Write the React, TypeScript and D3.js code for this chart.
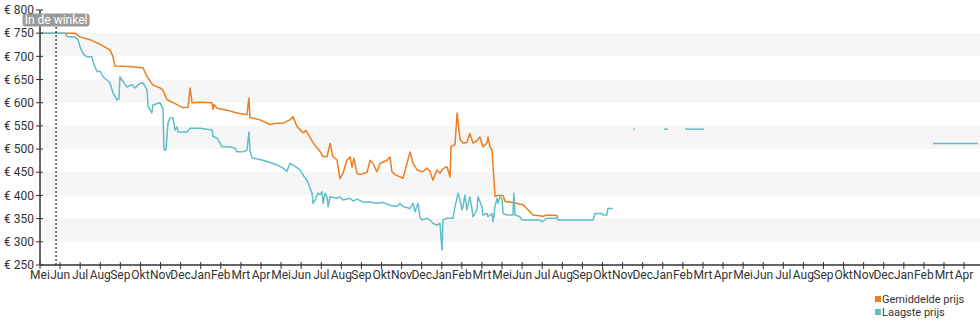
import React from "react";
import * as d3 from "d3";

// Month labels on the x axis (index-based axis; April of year 3 has no label)
const monthLabels: string[] = [
  "Mei", "Jun", "Jul", "Aug", "Sep", "Okt", "Nov", "Dec",
  "Jan", "Feb", "Mrt", "Apr", "Mei", "Jun", "Jul", "Aug", "Sep", "Okt", "Nov", "Dec",
  "Jan", "Feb", "Mrt", "Mei", "Jun", "Jul", "Aug", "Sep", "Okt", "Nov", "Dec",
  "Jan", "Feb", "Mrt", "Apr", "Mei", "Jun", "Jul", "Aug", "Sep", "Okt", "Nov", "Dec",
  "Jan", "Feb", "Mrt", "Apr",
];

const yTicks: number[] = [250, 300, 350, 400, 450, 500, 550, 600, 650, 700, 750, 800];

const releaseIdx = 0.8; // "In de winkel"

// [month index, price in €]
const gemiddeldePrijs: [number, number][] = [
  [0, 750], [1.74, 750], [1.99, 742], [2.49, 736], [2.99, 726], [3.48, 714], [3.63, 700], [3.73, 679],
  [4.33, 678], [4.73, 677], [5.13, 675], [5.33, 656], [5.62, 638], [5.97, 632], [6.12, 627], [6.32, 607],
  [6.82, 596], [7.12, 589], [7.37, 590], [7.47, 632], [7.57, 600], [7.96, 601], [8.56, 600], [8.61, 586],
  [8.66, 596], [8.81, 588], [9.31, 584], [9.81, 578], [10.3, 574], [10.4, 610], [10.45, 568], [10.95, 563],
  [11.45, 553], [11.8, 556], [12.1, 556], [12.44, 563], [12.59, 570], [12.79, 549], [13.09, 535], [13.24, 540],
  [13.59, 514], [13.94, 495], [14.09, 484], [14.29, 484], [14.44, 512], [14.58, 484], [14.78, 477], [14.93, 436],
  [15.08, 448], [15.28, 476], [15.43, 483], [15.53, 461], [15.63, 480], [15.78, 448], [15.93, 445], [16.28, 450],
  [16.43, 476], [16.58, 469], [16.77, 451], [16.92, 469], [17.27, 476], [17.42, 483], [17.52, 451], [17.67, 445],
  [17.92, 440], [18.07, 437], [18.42, 494], [18.57, 469], [18.77, 455], [19.06, 451], [19.26, 459], [19.41, 452],
  [19.56, 433], [19.76, 455], [19.91, 448], [20.06, 458], [20.26, 462], [20.41, 440], [20.46, 505], [20.66, 510],
  [20.76, 578], [20.91, 520], [21.06, 513], [21.25, 514], [21.4, 534], [21.55, 513], [21.75, 518], [21.9, 526],
  [22.05, 505], [22.25, 513], [22.3, 526], [22.4, 505], [22.5, 498], [22.65, 398], [22.8, 400], [23.05, 400],
  [23.15, 387], [23.54, 385], [24.04, 380], [24.39, 365], [24.54, 358], [25.04, 355], [25.24, 358], [25.73, 357],
  [25.78, 352],
];

const laagstePrijs: [number, number][] = [
  [0, 750], [1.24, 750], [1.34, 743], [1.74, 742], [1.89, 736], [1.99, 721], [2.14, 706], [2.34, 699],
  [2.59, 699], [2.64, 688], [2.84, 667], [2.99, 668], [3.14, 656], [3.48, 643], [3.63, 622], [3.83, 606],
  [3.93, 608], [3.98, 656], [4.08, 649], [4.33, 634], [4.58, 639], [4.73, 632], [4.98, 642], [5.13, 643],
  [5.33, 627], [5.38, 592], [5.57, 578], [5.62, 595], [5.97, 600], [6.12, 588], [6.17, 498], [6.27, 498],
  [6.37, 556], [6.47, 567], [6.62, 567], [6.72, 541], [6.82, 548], [6.87, 537], [7.32, 537], [7.47, 545],
  [7.96, 545], [8.56, 541], [8.61, 527], [8.81, 524], [8.96, 513], [9.06, 505], [9.46, 505], [9.71, 502],
  [9.81, 494], [10.1, 494], [10.3, 498], [10.4, 537], [10.45, 498], [10.55, 481], [11.1, 476], [11.6, 469],
  [11.85, 465], [12.1, 459], [12.29, 452], [12.44, 469], [12.59, 466], [12.94, 455], [13.19, 438], [13.29, 433],
  [13.44, 416], [13.54, 405], [13.59, 383], [13.69, 390], [13.84, 405], [13.94, 402], [14.04, 408], [14.09, 383],
  [14.19, 405], [14.29, 396], [14.34, 376], [14.44, 397], [14.78, 394], [14.93, 397], [15.08, 390], [15.43, 394],
  [15.58, 388], [15.78, 392], [16.08, 386], [16.43, 386], [16.77, 383], [17.07, 385], [17.42, 379], [17.77, 376],
  [17.92, 383], [18.07, 376], [18.42, 372], [18.57, 383], [18.67, 365], [18.82, 383], [18.91, 354], [19.01, 347],
  [19.26, 351], [19.41, 347], [19.56, 340], [19.76, 336], [19.91, 340], [20.01, 282], [20.06, 347], [20.26, 351],
  [20.56, 351], [20.66, 376], [20.81, 405], [20.91, 390], [21.01, 369], [21.06, 376], [21.15, 401], [21.25, 369],
  [21.4, 397], [21.5, 372], [21.55, 354], [21.75, 369], [21.8, 397], [22.0, 376], [22.05, 358], [22.25, 361],
  [22.3, 354], [22.5, 361], [22.55, 343], [22.65, 376], [22.75, 394], [22.8, 383], [22.9, 397], [23.0, 392],
  [23.05, 361], [23.24, 358], [23.54, 358], [23.59, 405], [23.64, 358], [23.89, 354], [23.99, 347], [24.89, 347],
  [24.99, 343], [25.24, 351], [25.73, 351], [25.78, 347], [27.53, 347], [27.63, 361], [27.97, 361], [28.02, 358],
  [28.22, 358], [28.27, 372], [28.52, 372],
];

// Isolated later fragments of the lowest price
const laagsteFragmenten: [number, number][][] = [
  [[29.54, 543], [29.62, 543]],
  [[31.06, 543], [31.26, 543]],
  [[32.11, 543], [33.05, 543]],
  [[44.45, 512], [46.69, 512]],
];

const legendItems: string[] = ["Gemiddelde prijs", "Laagste prijs"];

const ORANGE = "#ee7d22";
const TEAL = "#5fbfc9";
const TEXT = "#333";

export default function App() {
  const W = 980;
  const H = 325;
  const left = 40;
  const right = 980;
  const top = 10;
  const bottom = 265;

  const x = d3.scaleLinear().domain([0, monthLabels.length - 1]).range([left, 964.1]);
  const y = d3.scaleLinear().domain([250, 800]).range([bottom, top]);

  const line = d3
    .line<[number, number]>()
    .x((d) => x(d[0]))
    .y((d) => y(d[1]))
    .curve(d3.curveLinear);

  const bands = yTicks.filter((v) => v >= 300 && v < 800 && (v - 300) % 100 === 0);
  const font = "Roboto, 'Noto Sans', Arial, sans-serif";
  const rx = x(releaseIdx);
  const legendColors = [ORANGE, TEAL];

  return (
    <svg
      width={W}
      height={H}
      style={{ position: "absolute", left: 0, top: 0, background: "#fff" }}
      fontFamily={font}
    >
      {bands.map((v) => (
        <rect
          key={"b" + v}
          x={left}
          y={y(v + 50)}
          width={right - left}
          height={y(v) - y(v + 50)}
          fill="#f6f6f6"
        />
      ))}

      {/* lines */}
      <path d={line(gemiddeldePrijs) || ""} fill="none" stroke={ORANGE} strokeWidth={1.5} strokeLinejoin="round" />
      <path d={line(laagstePrijs) || ""} fill="none" stroke={TEAL} strokeWidth={1.5} strokeLinejoin="round" />
      {laagsteFragmenten.map((seg, i) => (
        <path key={"f" + i} d={line(seg) || ""} fill="none" stroke={TEAL} strokeWidth={1.5} />
      ))}

      {/* y axis */}
      <line x1={left} x2={left} y1={top} y2={bottom} stroke={TEXT} strokeWidth={1.5} />
      {yTicks.map((v) => (
        <g key={"y" + v}>
          <line x1={left - 4} x2={left + 3} y1={y(v)} y2={y(v)} stroke={TEXT} strokeWidth={1} />
          <text x={left - 6} y={y(v)} dy="0.35em" textAnchor="end" fontSize={12} fill={TEXT}>
            {"€ " + v}
          </text>
        </g>
      ))}

      {/* release marker */}
      <line x1={rx} x2={rx} y1={27} y2={bottom} stroke="#222" strokeWidth={1.2} strokeDasharray="2,2" />
      <rect x={rx - 33.5} y={13.5} width={67} height={13} rx={3} fill="#9a9a9a" />
      <text x={rx} y={24} textAnchor="middle" fontSize={12} fill="#fff">
        In de winkel
      </text>

      {/* x axis */}
      <line x1={left} x2={right} y1={bottom} y2={bottom} stroke={TEXT} strokeWidth={1.5} />
      {monthLabels.map((m, i) => (
        <g key={"x" + i}>
          <line x1={x(i)} x2={x(i)} y1={bottom - 3} y2={bottom + 4} stroke={TEXT} strokeWidth={1} />
          <text x={x(i)} y={bottom + 14} textAnchor="middle" fontSize={12} fill={TEXT}>
            {m}
          </text>
        </g>
      ))}

      {/* legend */}
      {legendItems.map((name, i) => (
        <g key={"l" + i} transform={`translate(875, ${296 + i * 13})`}>
          <rect x={0} y={0} width={6} height={6} fill={legendColors[i]} />
          <text x={7} y={6.5} fontSize={11} fill={TEXT}>
            {name}
          </text>
        </g>
      ))}
    </svg>
  );
}
